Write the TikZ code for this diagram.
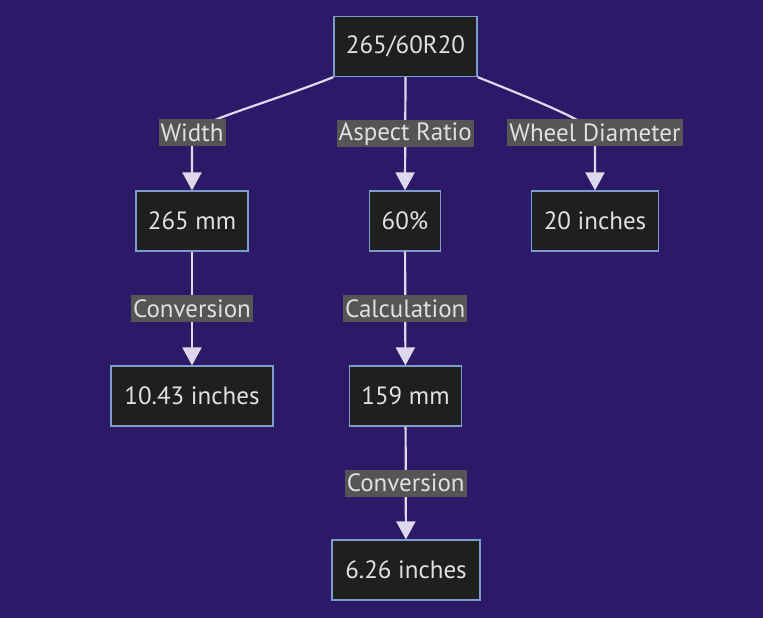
\documentclass[tikz,border=0pt]{standalone}
\usepackage{fontspec}
\setmainfont{PT Sans}
\usetikzlibrary{arrows.meta,calc}
\definecolor{bgpurple}{RGB}{44,26,104}
\definecolor{boxfill}{RGB}{31,31,31}
\definecolor{boxline}{RGB}{124,156,203}
\definecolor{lblfill}{RGB}{85,85,85}
\definecolor{txtgray}{RGB}{224,224,224}
\definecolor{linegray}{RGB}{222,216,236}
\tikzset{
  box/.style={draw=boxline,fill=boxfill,text=txtgray,line width=1.2pt,
    minimum height=60pt,inner xsep=12pt,font=\fontsize{25}{29}\selectfont},
  lbl/.style={fill=lblfill,text=txtgray,inner xsep=2pt,inner ysep=0pt,
    minimum height=27pt,font=\fontsize{25}{29}\selectfont},
  flow/.style={draw=linegray,line width=2.2pt,-{Triangle[width=19pt,length=18pt]}}
}
\begin{document}
\begin{tikzpicture}[x=1pt,y=-1pt]
\useasboundingbox[fill=bgpurple] (0,0) rectangle (763,618);
%tyre code
\node[box,minimum width=141pt] (tyre) at (405.5,46.5) {265/60R20};
%first row
\node[box,minimum width=110pt] (mm265) at (192,221) {265 mm};
\node[box,minimum width=64pt] (ratio) at (405,221) {60\%};
\node[box,minimum width=126pt] (in20) at (595,221) {20 inches};
%second row
\node[box,minimum width=162pt] (in1043) at (192,396) {10.43 inches};
\node[box,minimum width=111pt] (mm159) at (405.5,396) {159 mm};
%last
\node[box,minimum width=148pt] (in626) at (406,570) {6.26 inches};

\draw[flow] (tyre.south west) .. controls +(-60,24) and +(10,-12) .. ($(mm265.north)+(0,-58)$) node[lbl]{Width} -- (mm265.north);
\draw[flow] (tyre.south) -- node[lbl]{Aspect Ratio} (ratio.north);
\draw[flow] (tyre.south east) .. controls +(60,24) and +(-10,-12) .. ($(in20.north)+(0,-58)$) node[lbl]{Wheel Diameter} -- (in20.north);

\draw[flow] (mm265) -- node[lbl]{Conversion} (in1043);
\draw[flow] (ratio) -- node[lbl]{Calculation} (mm159);
\draw[flow] (mm159) -- node[lbl]{Conversion} (in626);
\end{tikzpicture}
\end{document}
